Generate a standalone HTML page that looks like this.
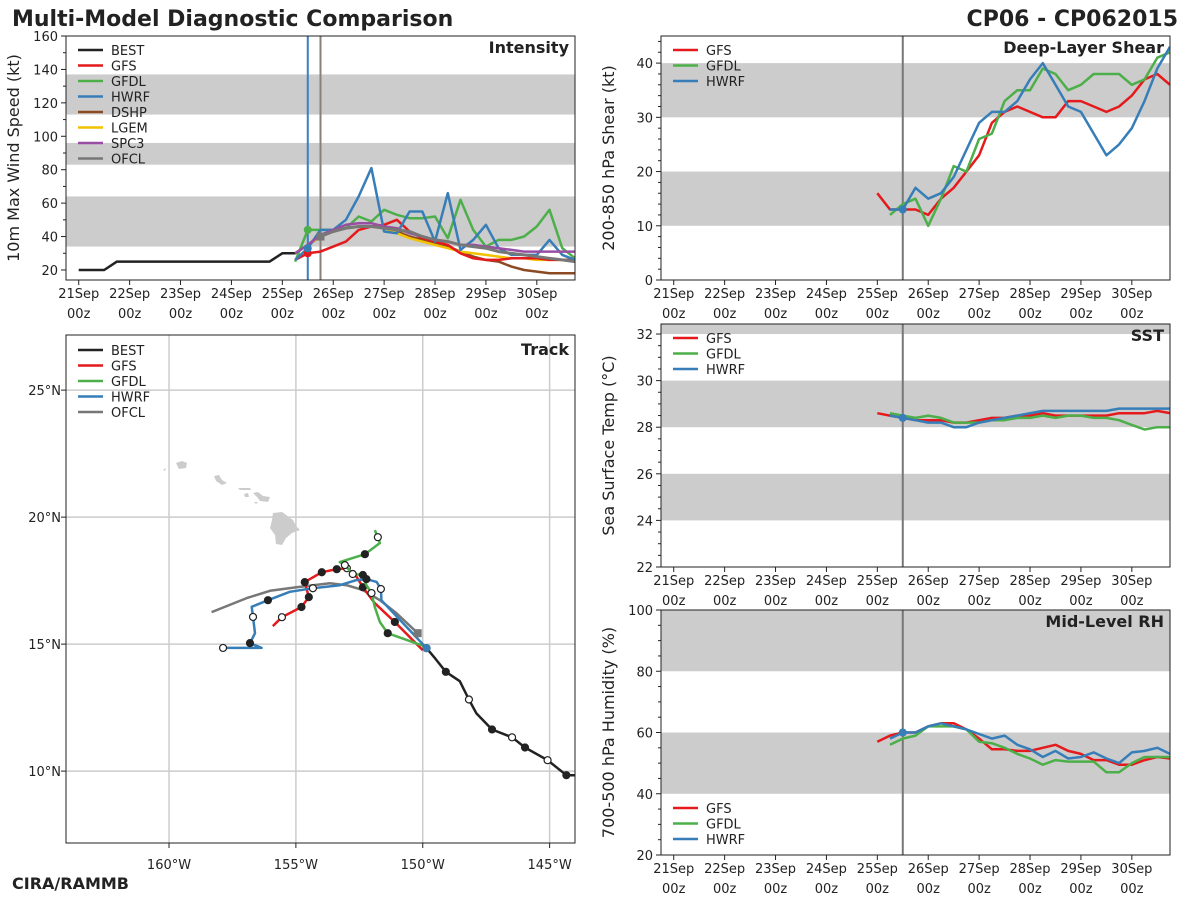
<!DOCTYPE html>
<html><head><meta charset="utf-8">
<style>
html,body{margin:0;padding:0;background:#fff;}
svg text{font-family:"DejaVu Sans","Liberation Sans",sans-serif;fill:#222;}
</style></head>
<body>
<svg id="fig" width="1200" height="900" viewBox="0 0 1200 900" xmlns="http://www.w3.org/2000/svg">
<text x="12" y="26" font-size="22" font-weight="bold">Multi-Model Diagnostic Comparison</text>
<text x="1178" y="26" font-size="22" font-weight="bold" text-anchor="end">CP06 - CP062015</text>
<text x="12" y="889" font-size="16" font-weight="bold">CIRA/RAMMB</text>
</svg>
<script>
// ---------- data ----------
const dayLabels = ["21Sep","22Sep","23Sep","24Sep","25Sep","26Sep","27Sep","28Sep","29Sep","30Sep"];
const modelHours = [102,108,114,120,126,132,138,144,150,156,162,168,174,180,186,192,198,204,210,216,222,228,234];
const bestHours = [0,6,12,18,24,30,36,42,48,54,60,66,72,78,84,90,96,102,108,114];
const bestVmax = [20,20,20,25,25,25,25,25,25,25,25,25,25,25,25,25,30,30,35,40];
const gfsVmax  = [26,30,31,34,37,44,46,47,50,43,39,37,35,30,27,26,26,27,27,27,26,26,26];
const gfdlVmax = [25,44,44,44,45,52,49,56,53,51,51,52,39,62,44,34,38,38,40,46,56,33,27];
const hwrfVmax = [26,33,44,44,50,64,81,43,42,55,55,37,66,32,38,47,33,29,29,29,38,29,26];
const dshpVmax = [30,35,40,43,45,46,46,45,43,40,38,36,34,31,28,26,25,22,20,19,18,18,18];
const lgemVmax = [30,35,40,43,45,46,46,45,42,39,37,35,33,31,30,29,28,27,27,26,26,26,25];
const spc3Vmax = [30,35,41,44,47,48,48,46,45,42,40,38,37,35,35,34,33,32,31,31,31,31,31];
const ofclVmax = [null,null,40,43,45,46,46,45,44,43,40,38,37,35,34,33,31,30,29,28,27,26,25];

const envHours = [96,102,108,114,120,126,132,138,144,150,156,162,168,174,180,186,192,198,204,210,216,222,228,234];
const gfsShear  = [16,13,13,13,12,15,17,20,23,29,31,32,31,30,30,33,33,32,31,32,34,37,38,36];
const gfdlShear = [null,12,14,15,10,15,21,20,26,27,33,35,35,39,38,35,36,38,38,38,36,37,41,42];
const hwrfShear = [null,13,13,17,15,16,19,24,29,31,31,33,37,40,36,32,31,27,23,25,28,33,39,43];
const gfsSst  = [28.6,28.5,28.4,28.3,28.3,28.3,28.2,28.2,28.3,28.4,28.4,28.5,28.5,28.6,28.5,28.5,28.5,28.5,28.5,28.6,28.6,28.6,28.7,28.6];
const gfdlSst = [null,28.6,28.5,28.4,28.5,28.4,28.2,28.2,28.2,28.3,28.3,28.4,28.4,28.5,28.4,28.5,28.5,28.4,28.4,28.3,28.1,27.9,28.0,28.0];
const hwrfSst = [null,28.5,28.4,28.3,28.2,28.2,28.0,28.0,28.2,28.3,28.4,28.5,28.6,28.7,28.7,28.7,28.7,28.7,28.7,28.8,28.8,28.8,28.8,28.8];
const gfsRh  = [57,59,60,60,62,63,63,61,58,54.5,54.5,54,54,55,56,54,53,51,51,49.5,49.5,51,52,51.5];
const gfdlRh = [null,56,58,59,62,62,62,61,57,56.5,55,53,51.5,49.5,51,50.5,50.5,50.5,47,47,50,52,52,52];
const hwrfRh = [null,58,60,60,62,63,62,61,59.5,58,59,56,54.5,52,54,51.5,52,53.5,51.5,50,53.5,54,55,53];

const bestLon = [-144.0,-144.34,-145.08,-145.97,-146.48,-147.27,-147.89,-148.18,-148.54,-149.09,-149.49,-149.85];
const bestLat = [9.84,9.84,10.43,10.93,11.33,11.64,12.28,12.82,13.54,13.91,14.41,14.84];
const bestMark = ["","F","O","F","O","F","","O","","F","","O"];
const gfsLon = [-150.0,-151.10,-151.89,-152.36,-152.60,-152.99,-153.39,-153.98,-154.65,-154.49,-154.78,-155.55,-155.91];
const gfsLat = [14.76,15.87,16.61,17.24,17.64,17.99,17.95,17.83,17.44,16.85,16.46,16.06,15.71];
const gfsMark = ["","F","","F","","O","F","F","F","F","F","O",""];
const gfdlLon = [-149.72,-151.38,-151.69,-151.89,-152.02,-152.22,-152.36,-152.76,-153.07,-153.27,-152.28,-151.69,-151.77,-151.89];
const gfdlLat = [14.84,15.43,15.87,16.46,17.01,17.32,17.72,17.76,18.11,18.23,18.54,18.98,19.21,19.49];
const gfdlMark = ["","F","","","O","","F","O","O","","F","","O",""];
const hwrfLon = [-149.85,-151.63,-151.65,-151.82,-152.22,-152.61,-153.27,-154.33,-155.24,-156.10,-156.74,-156.69,-156.61,-156.81,-156.35,-157.87];
const hwrfLat = [14.84,16.73,17.17,17.45,17.56,17.52,17.32,17.20,17.06,16.73,16.47,16.07,15.43,15.04,14.85,14.85];
const hwrfMark = ["","","O","","F","","","O","","F","","O","","F","","O"];
const ofclLon = [-150.20,-151.04,-151.69,-152.36,-153.00,-153.66,-154.97,-156.02,-156.94,-158.32];
const ofclLat = [15.43,16.22,16.73,17.13,17.32,17.40,17.24,17.10,16.81,16.26];

// ---------- helpers ----------
const NS = "http://www.w3.org/2000/svg";
const fig = document.getElementById("fig");
const COL = {BEST:"#222222",GFS:"#e41a1c",GFDL:"#4daf4a",HWRF:"#377eb8",DSHP:"#8c4a22",LGEM:"#f2c200",SPC3:"#984ea3",OFCL:"#777777"};
function mk(tag, attrs, parent){const e=document.createElementNS(NS,tag);for(const k in attrs)e.setAttribute(k,attrs[k]);(parent||fig).appendChild(e);return e;}
function scale(d0,d1,r0,r1){return v=>r0+(v-d0)*(r1-r0)/(d1-d0);}

function makePanel(p){
  const g=mk("g",{});
  
  
  const sx=scale(-6,234,p.x0,p.x1), sy=scale(p.yd[0],p.yd[1],p.y1,p.y0);
  const cp="clip-"+p.name;
  const cl=mk("clipPath",{id:cp},g); mk("rect",{x:p.x0,y:p.y0,width:p.x1-p.x0,height:p.y1-p.y0},cl);
  p.bands.forEach(b=>{
    const r=mk("rect",{x:p.x0,y:sy(Math.min(b[1],p.yd[1])),width:p.x1-p.x0,height:sy(b[0])-sy(Math.min(b[1],p.yd[1])),fill:"#cccccc"},g);
    
    
  });
  dayLabels.forEach((d,i)=>{
    const x=sx(i*24);
    mk("line",{x1:x,x2:x,y1:p.y1,y2:p.y1+5,stroke:"#222"},g);
    const t=mk("text",{x:x,y:p.y1+18,"font-size":13,"text-anchor":"middle"},g); t.textContent=d;
    
    
    const t2=mk("text",{x:x,y:p.y1+38,"font-size":13,"text-anchor":"middle"},g); t2.textContent="00z";
    
    
  });
  p.yticks.forEach(v=>{
    const y=sy(v);
    mk("line",{x1:p.x0-5,x2:p.x0,y1:y,y2:y,stroke:"#222"},g);
    const t=mk("text",{x:p.x0-8,y:y+5,"font-size":13,"text-anchor":"end"},g); t.textContent=v;
    
    
  });
  (p.minor||[]).forEach(v=>{const y=sy(v);mk("line",{x1:p.x0-3,x2:p.x0,y1:y,y2:y,stroke:"#222"},g);});
  const yt=mk("text",{x:0,y:0,"font-size":16,"text-anchor":"middle",transform:`translate(${p.x0-47},${(p.y0+p.y1)/2}) rotate(-90)`},g);
  yt.textContent=p.ytitle;
  
  
  const pt=mk("text",{x:p.x1-6,y:p.y0+17,"font-size":16,"font-weight":"bold","text-anchor":"end"},g); pt.textContent=p.title;
  
  
  return {g,sx,sy,cp};
}
function series(P,hours,vals,color,name,w){
  let d="";let started=false;
  hours.forEach((h,i)=>{const v=vals[i];if(v==null)return;d+=(started?"L":"M")+P.sx(h).toFixed(1)+","+P.sy(v).toFixed(1);started=true;});
  const e=mk("path",{d:d,fill:"none",stroke:color,"stroke-width":w||2.5,"stroke-linejoin":"round","clip-path":`url(#${P.cp})`},P.g);
  
  
}
function vline(P,h,color,w){const x=P.sx(h);const l=mk("line",{x1:x,x2:x,y1:P.y0,y2:P.y1,stroke:color,"stroke-width":w},P.g);
  
  }
function frame(P,p){const r=mk("rect",{x:p.x0,y:p.y0,width:p.x1-p.x0,height:p.y1-p.y0,fill:"none",stroke:"#222","stroke-width":1},P.g);
  
  }
function legend(parent,x,y,items,gap){
  items.forEach((n,i)=>{
    const gy=y+i*gap;
    const l=mk("line",{x1:x,x2:x+25,y1:gy,y2:gy,stroke:COL[n],"stroke-width":2.5},parent);
    
    
    const t=mk("text",{x:x+33,y:gy+5,"font-size":13},parent); t.textContent=n;
    
    
  });
}

// ---------- intensity ----------
const pI={name:"intensity-panel",x0:66,x1:575,y0:36,y1:280,yd:[14,160],bands:[[34,64],[83,96],[113,137]],yticks:[20,40,60,80,100,120,140,160],minor:[30,50,70,90,110,130,150],ytitle:"10m Max Wind Speed (kt)",title:"Intensity"};
const I=makePanel(pI); I.y0=pI.y0; I.y1=pI.y1;
vline(I,108,"#3a7fc1",2); vline(I,114,"#8a7f7a",2);
series(I,bestHours,bestVmax,COL.BEST,"best-intensity-line");
series(I,modelHours,dshpVmax,COL.DSHP,"dshp-intensity-line");
series(I,modelHours,lgemVmax,COL.LGEM,"lgem-intensity-line");
series(I,modelHours,gfsVmax,COL.GFS,"gfs-intensity-line");
series(I,modelHours,gfdlVmax,COL.GFDL,"gfdl-intensity-line");
series(I,modelHours,hwrfVmax,COL.HWRF,"hwrf-intensity-line");
series(I,modelHours,spc3Vmax,COL.SPC3,"spc3-intensity-line");
series(I,modelHours,ofclVmax,COL.OFCL,"ofcl-intensity-line",3);
[[gfdlVmax[1],COL.GFDL],[gfsVmax[1],COL.GFS],[hwrfVmax[1],COL.HWRF]].forEach(a=>{const c=mk("circle",{cx:I.sx(108),cy:I.sy(a[0]),r:4,fill:a[1]},I.g);});
{const s=mk("rect",{x:I.sx(114)-4,y:I.sy(ofclVmax[2])-4,width:8,height:8,fill:COL.OFCL},I.g);}
frame(I,pI);
legend(I.g,78,50,["BEST","GFS","GFDL","HWRF","DSHP","LGEM","SPC3","OFCL"],15.5);

// ---------- shear ----------
const pS={name:"shear-panel",x0:661,x1:1170,y0:36,y1:280,yd:[0,45],bands:[[10,20],[30,40]],yticks:[0,10,20,30,40],minor:[2,4,6,8,12,14,16,18,22,24,26,28,32,34,36,38,42,44],ytitle:"200-850 hPa Shear (kt)",title:"Deep-Layer Shear"};
const S=makePanel(pS); S.y0=pS.y0; S.y1=pS.y1;
vline(S,108,"#777",2);
series(S,envHours,gfsShear,COL.GFS,"gfs-shear-line");
series(S,envHours,gfdlShear,COL.GFDL,"gfdl-shear-line");
series(S,envHours,hwrfShear,COL.HWRF,"hwrf-shear-line");
{const c=mk("circle",{cx:S.sx(108),cy:S.sy(hwrfShear[2]),r:4,fill:COL.HWRF},S.g);}
frame(S,pS);
legend(S.g,673,50,["GFS","GFDL","HWRF"],15.5);

// ---------- SST ----------
const pT={name:"sst-panel",x0:661,x1:1170,y0:324,y1:567,yd:[22,32.43],bands:[[24,26],[28,30],[32,33]],yticks:[22,24,26,28,30,32],minor:[22.5,23,23.5,24.5,25,25.5,26.5,27,27.5,28.5,29,29.5,30.5,31,31.5],ytitle:"Sea Surface Temp (°C)",title:"SST"};
const T=makePanel(pT); T.y0=pT.y0; T.y1=pT.y1;
vline(T,108,"#777",2);
series(T,envHours,gfsSst,COL.GFS,"gfs-sst-line");
series(T,envHours,gfdlSst,COL.GFDL,"gfdl-sst-line");
series(T,envHours,hwrfSst,COL.HWRF,"hwrf-sst-line");
{const c=mk("circle",{cx:T.sx(108),cy:T.sy(hwrfSst[2]),r:4,fill:COL.HWRF},T.g);}
frame(T,pT);
legend(T.g,673,338,["GFS","GFDL","HWRF"],15.5);

// ---------- RH ----------
const pR={name:"rh-panel",x0:661,x1:1170,y0:610,y1:855,yd:[20,100],bands:[[40,60],[80,100]],yticks:[20,40,60,80,100],minor:[25,30,35,45,50,55,65,70,75,85,90,95],ytitle:"700-500 hPa Humidity (%)",title:"Mid-Level RH"};
const R=makePanel(pR); R.y0=pR.y0; R.y1=pR.y1;
vline(R,108,"#777",2);
series(R,envHours,gfsRh,COL.GFS,"gfs-rh-line");
series(R,envHours,gfdlRh,COL.GFDL,"gfdl-rh-line");
series(R,envHours,hwrfRh,COL.HWRF,"hwrf-rh-line");
{const c=mk("circle",{cx:R.sx(108),cy:R.sy(hwrfRh[2]),r:4,fill:COL.HWRF},R.g);}
frame(R,pR);
legend(R.g,673,808,["GFS","GFDL","HWRF"],15.5);

// ---------- track ----------
const tg=mk("g",{});


const tx=scale(-164.06,-144.0,66,575), ty=scale(7.17,27.17,843,335);
{const cl=mk("clipPath",{id:"clip-track"},tg);mk("rect",{x:66,y:335,width:509,height:508},cl);}
[-160,-155,-150,-145].forEach(l=>{const x=tx(l);mk("line",{x1:x,x2:x,y1:335,y2:843,stroke:"#cccccc","stroke-width":1.5},tg);
  const t=mk("text",{x:x,y:869,"font-size":13,"text-anchor":"middle"},tg);t.textContent=(-l)+"°W";
  
  
  mk("line",{x1:x,x2:x,y1:843,y2:848,stroke:"#222"},tg);});
[10,15,20,25].forEach(l=>{const y=ty(l);mk("line",{x1:66,x2:575,y1:y,y2:y,stroke:"#cccccc","stroke-width":1.5},tg);
  const t=mk("text",{x:61,y:y+5,"font-size":13,"text-anchor":"end"},tg);t.textContent=l+"°N";
  
  
  mk("line",{x1:61,x2:66,y1:y,y2:y,stroke:"#222"},tg);});
const isl=mk("g",{fill:"#cccccc"},tg);


["M176,463 L182,461 L187,463 L186,468 L179,469 Z","M163,470 L166,468 L165,471 Z","M214,476 L219,475 L222,480 L227,483 L222,485 L216,481 Z","M238,488 L250,488 L251,490 L240,490 Z","M244,494 L248,493 L249,497 L245,497 Z","M253,493 L258,492 L263,496 L270,497 L268,502 L260,501 L257,497 Z","M254,502 L258,502 L256,504 Z","M273,513 L282,512 L293,520 L296,526 L300,530 L292,533 L286,538 L282,545 L276,544 L275,535 L270,528 L272,520 Z"].forEach(d=>mk("path",{d:d},isl));
function track(lon,lat,color,name,marks,w){
  let d="";lon.forEach((v,i)=>{d+=(i?"L":"M")+tx(v).toFixed(1)+","+ty(lat[i]).toFixed(1);});
  const p=mk("path",{d:d,fill:"none",stroke:color,"stroke-width":w||2.5,"stroke-linejoin":"round","clip-path":"url(#clip-track)"},tg);
  
  
  (marks||[]).forEach((m,i)=>{if(!m)return;
    const c=mk("circle",{cx:tx(lon[i]),cy:ty(lat[i]),r:3.5,fill:m==="F"?"#222":"#fff",stroke:"#222","stroke-width":1.2},tg);
    
    });
}
track(ofclLon,ofclLat,COL.OFCL,"ofcl-track",null,2.5);
track(gfsLon,gfsLat,COL.GFS,"gfs-track",gfsMark);
track(gfdlLon,gfdlLat,COL.GFDL,"gfdl-track",gfdlMark);
track(hwrfLon,hwrfLat,COL.HWRF,"hwrf-track",hwrfMark);
track(bestLon,bestLat,COL.BEST,"best-track",bestMark);
{const s=mk("rect",{x:tx(ofclLon[0])-4,y:ty(ofclLat[0])-4,width:8,height:8,fill:COL.OFCL},tg);}
{const c=mk("circle",{cx:tx(hwrfLon[0]),cy:ty(hwrfLat[0]),r:4,fill:COL.HWRF},tg);}
{const r=mk("rect",{x:66,y:335,width:509,height:508,fill:"none",stroke:"#222"},tg);}
{const t=mk("text",{x:569,y:355,"font-size":16,"font-weight":"bold","text-anchor":"end"},tg);t.textContent="Track";}
legend(tg,78,350,["BEST","GFS","GFDL","HWRF","OFCL"],15.5);
</script>
</body></html>
